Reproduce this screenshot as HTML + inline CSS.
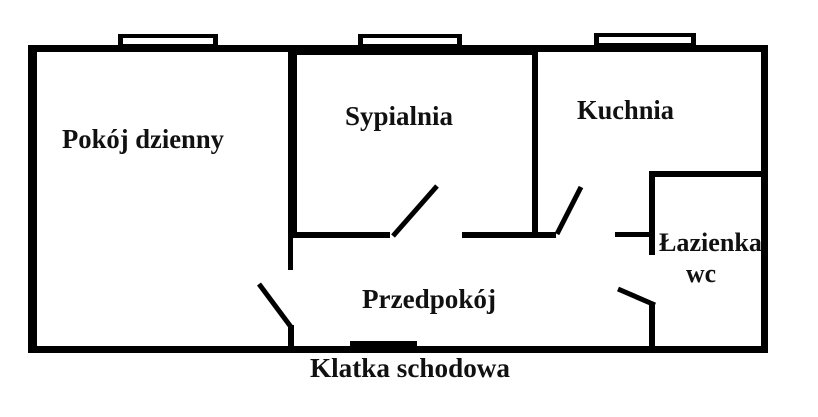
<!DOCTYPE html>
<html><head><meta charset="utf-8"><style>
html,body{margin:0;padding:0;background:#fff;}
svg{display:block;}
text{font-family:"Liberation Serif","Times New Roman",serif;font-weight:bold;fill:#111;}
</style></head><body>
<svg width="818" height="417" viewBox="0 0 818 417" xmlns="http://www.w3.org/2000/svg">
<g fill="#000">
<rect x="118" y="34" width="100" height="12"/>
<rect x="358" y="34" width="104" height="12"/>
<rect x="594" y="33" width="102" height="13"/>
</g>
<g fill="#fff">
<rect x="123" y="38" width="90" height="6"/>
<rect x="363" y="38" width="94" height="6"/>
<rect x="599" y="37" width="92" height="6"/>
</g>
<g fill="#000">
<rect x="28" y="45" width="740" height="7"/>
<rect x="28" y="45" width="9" height="308"/>
<rect x="761" y="45" width="7" height="308"/>
<rect x="28" y="346" width="740" height="7"/>
<rect x="288" y="45" width="250" height="10"/>
<rect x="288" y="45" width="9" height="193"/>
<rect x="288" y="236" width="5" height="34"/>
<rect x="293" y="232" width="97" height="6"/>
<rect x="462" y="232" width="76" height="6"/>
<rect x="532" y="45" width="6" height="193"/>
<rect x="538" y="232" width="18" height="6"/>
<rect x="649" y="171" width="117" height="6"/>
<rect x="649" y="171" width="6" height="84"/>
<rect x="615" y="232" width="36" height="5"/>
<rect x="649" y="304" width="6" height="46"/>
<rect x="288" y="325" width="6" height="25"/>
<rect x="350" y="341" width="67" height="11"/>
</g>
<g stroke="#000" stroke-width="5" stroke-linecap="butt">
<line x1="393" y1="236" x2="437" y2="186"/>
<line x1="557" y1="234" x2="581" y2="187"/>
<line x1="618" y1="289" x2="655" y2="305"/>
<line x1="259" y1="284" x2="291" y2="327"/>
</g>
<text x="62" y="148" font-size="27" textLength="162" lengthAdjust="spacingAndGlyphs">Pokój dzienny</text>
<text x="345" y="125" font-size="27" textLength="108" lengthAdjust="spacingAndGlyphs">Sypialnia</text>
<text x="577" y="119" font-size="27" textLength="97" lengthAdjust="spacingAndGlyphs">Kuchnia</text>
<text x="659" y="251" font-size="26" textLength="103" lengthAdjust="spacingAndGlyphs">Łazienka</text>
<text x="686" y="282" font-size="26" textLength="30" lengthAdjust="spacingAndGlyphs">wc</text>
<text x="362" y="308" font-size="27" textLength="134" lengthAdjust="spacingAndGlyphs">Przedpokój</text>
<text x="310" y="377" font-size="27" textLength="200" lengthAdjust="spacingAndGlyphs">Klatka schodowa</text>
</svg>
</body></html>
